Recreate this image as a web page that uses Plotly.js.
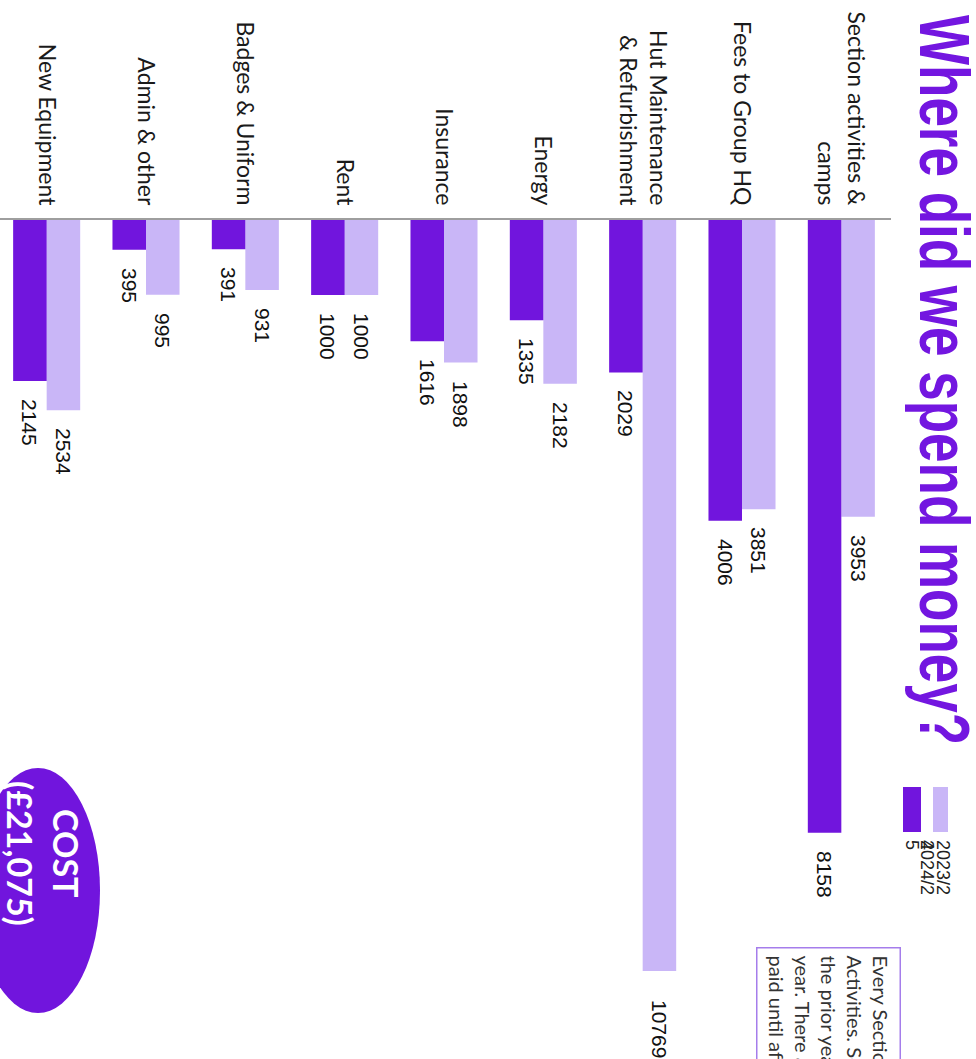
<!DOCTYPE html>
<html>
<head>
<meta charset="utf-8">
<script src="https://cdn.plot.ly/plotly-3.0.1.min.js"></script>
<style>
html,body{margin:0;padding:0;width:976px;height:1059px;overflow:hidden;background:#ffffff;}
#chart{position:absolute;left:0;top:0;width:1059px;height:1000px;transform-origin:0 0;transform:translateX(976px) rotate(90deg);}
</style>
</head>
<body>
<div id="chart"></div>
<script>
// ---- data ----
const categories = ['Section activities &<br>camps', 'Fees to Group HQ', 'Hut Maintenance<br>& Refurbishment', 'Energy', 'Insurance', 'Rent', 'Badges & Uniform', 'Admin & other', 'New Equipment'];
const values2023 = [3953, 3851, 10769, 2182, 1898, 1000, 931, 995, 2534];
const values2024 = [8158, 4006, 2029, 1335, 1616, 1000, 391, 395, 2145];
const seriesNames = ['2023/24', '2024/25'];
const titleText = 'Where did we spend money?';
const noteLines = ['Every Section is given a budget for', 'Activities. Some costs were paid in', 'the prior year for activities this', 'year. There are also costs not yet', 'paid until after the year end.'];
const costLabel = ['COST', '(£21,075)'];
const valueMax = 10000;

// ---- layout constants (unrotated chart; the page turns it 90deg) ----
const W = 1059, H = 1000;
const M = {l: 220, r: 88, t: 85, b: 21};
const PW = W - M.l - M.r, PH = H - M.t - M.b;
const px2x = ox => (ox - M.l) / PW;
const px2y = oy => 1 - (oy - M.t) / PH;
const darkPurple = '#7115DD';
const lightPurple = '#C9B6F7';
const bargap = 0.325;
const titleSize = 53, titleBaseline = 56, titleStretch = 1.32;

const traces = [
  {type: 'bar', orientation: 'h', name: seriesNames[0], x: values2023, y: categories,
   marker: {color: lightPurple}, textposition: 'none', hoverinfo: 'x'},
  {type: 'bar', orientation: 'h', name: seriesNames[1], x: values2024, y: categories,
   marker: {color: darkPurple}, textposition: 'none', hoverinfo: 'x'}
];

const annotations = [];
const labelFont = {family: 'Liberation Sans, Arial, sans-serif', size: 21, color: '#111111'};
[values2023, values2024].forEach((vals, t) => {
  const off = (t === 0 ? -1 : 1) * (1 - bargap) / 4;
  vals.forEach((v, i) => {
    const over = v > valueMax;
    annotations.push({
      x: Math.min(v, valueMax), y: i + off, xref: 'x', yref: 'y',
      text: String(v), showarrow: false, xanchor: 'left', yanchor: 'middle',
      xshift: over ? 27 : 16, font: labelFont
    });
  });
});

// legend (drawn by hand to match the wrapped legend text)
const legFont = {family: 'Liberation Sans, Arial, sans-serif', size: 18, color: '#222222'};
const shapes = [
  {type: 'rect', xref: 'paper', yref: 'paper', x0: px2x(787), x1: px2x(832), y0: px2y(28), y1: px2y(43), fillcolor: lightPurple, line: {width: 0}},
  {type: 'rect', xref: 'paper', yref: 'paper', x0: px2x(787), x1: px2x(832), y0: px2y(55), y1: px2y(73), fillcolor: darkPurple, line: {width: 0}},
  {type: 'circle', xref: 'paper', yref: 'paper', x0: px2x(768), x1: px2x(1013), y0: px2y(876), y1: px2y(1000), fillcolor: darkPurple, line: {width: 0}}
];
const legendPieces = [
  [seriesNames[0].slice(0, 6), 33], [seriesNames[0].slice(6), 49],
  [seriesNames[1].slice(0, 6), 49], [seriesNames[1].slice(6), 64]
];
legendPieces.forEach(([txt, oy]) => {
  annotations.push({xref: 'paper', yref: 'paper', x: px2x(838), y: px2y(oy), xanchor: 'left', yanchor: 'middle',
    text: txt, showarrow: false, font: legFont});
});

// note box
annotations.push({xref: 'paper', yref: 'paper', x: px2x(947), y: px2y(75), xanchor: 'left', yanchor: 'top',
  text: noteLines.join('<br>'), align: 'left', showarrow: false, bordercolor: '#A57DEB', borderwidth: 1.5,
  borderpad: 7, bgcolor: 'rgba(255,255,255,0)', font: {family: 'Lato, sans-serif', size: 20, color: '#333333'}});

// cost bubble text (two lines, tight spacing as in the reference)
const costFont = {family: 'Lato, sans-serif', size: 34, color: '#ffffff', weight: 'bold'};
[[costLabel[0], 909], [costLabel[1], 955]].forEach(([txt, oy]) => {
  annotations.push({xref: 'paper', yref: 'paper', x: px2x(853), y: px2y(oy), xanchor: 'center', yanchor: 'middle',
    text: txt, showarrow: false, font: costFont});
});

const layout = {
  width: W, height: H,
  margin: M,
  paper_bgcolor: '#ffffff', plot_bgcolor: '#ffffff',
  showlegend: false,
  barmode: 'group', bargap: bargap, bargroupgap: 0,
  title: {text: titleText, xref: 'container', yref: 'container', x: 15 / W, xanchor: 'left',
    y: 1 - (titleBaseline - 0.7 * titleSize) / H, yanchor: 'top',
    font: {family: 'Liberation Sans, Arial, sans-serif', size: titleSize, color: '#7316E0', weight: 'bold'}},
  xaxis: {range: [0, valueMax], visible: false, fixedrange: true},
  yaxis: {type: 'category', autorange: 'reversed', showline: true, linecolor: '#9E9E9E', linewidth: 2,
    ticks: '', showgrid: false, zeroline: false, ticklabelstandoff: 8,
    tickfont: {family: 'Lato, sans-serif', size: 23, color: '#1A1A1A'}},
  shapes: shapes,
  annotations: annotations
};

Plotly.newPlot('chart', traces, layout, {staticPlot: true, displayModeBar: false}).then(gd => {
  // the reference title is drawn in a tall face: stretch it vertically about its baseline
  const g = gd.querySelector('.g-gtitle');
  if (g) g.setAttribute('transform', `matrix(1,0,0,${titleStretch},0,${titleBaseline * (1 - titleStretch)})`);
});
</script>
</body>
</html>
